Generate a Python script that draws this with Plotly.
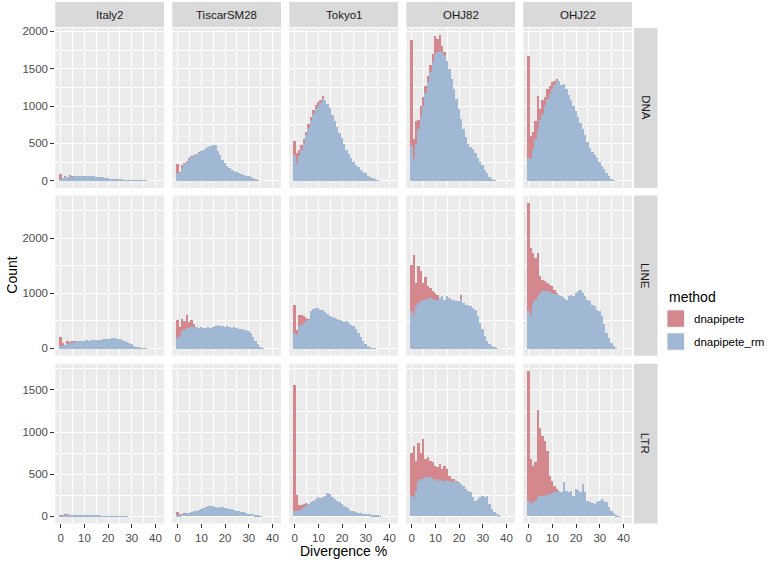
import plotly.graph_objects as go

# ---------------- data (counts per 1%-wide divergence bin, bins 0..38) ----------------
bins = list(range(39))
samples = ["Italy2", "TiscarSM28", "Tokyo1", "OHJ82", "OHJ22"]
families = ["DNA", "LINE", "LTR"]
methods = ["dnapipete", "dnapipete_rm"]
x_ticks = [0, 10, 20, 30, 40]

def pad(v):
    return v + [0] * (39 - len(v))

# DNA
dna_italy2_pipete = pad([90,40,70,50,75,60,65,65,65,65,65,65,65,62,60,58,55,50,45,40,35,30,25,20,18,15,12,10,8,6,5,5,5,4,3,2,1])
dna_italy2_rm     = pad([30,35,45,50,55,58,60,62,65,65,65,65,65,62,60,58,55,50,45,40,35,30,25,20,18,15,12,10,8,6,5,5,5,4,3,2,1])
dna_tiscar_pipete = pad([220,120,210,240,270,300,330,340,360,380,400,420,440,460,470,480,480,400,340,280,240,200,170,145,130,115,105,98,85,70,60,50,35,15,5])
dna_tiscar_rm     = pad([100,110,170,220,255,290,320,335,355,375,400,420,440,460,470,480,480,400,340,280,240,200,170,145,130,115,105,98,85,70,60,50,35,15,5])
dna_tokyo1_pipete = pad([530,370,420,480,560,660,760,860,950,1010,1050,1080,1130,1080,1030,970,880,800,720,640,570,490,420,360,300,250,210,180,150,120,100,70,50,32,18,6])
dna_tokyo1_rm     = pad([340,240,330,420,510,610,710,810,900,960,1000,1040,1100,1080,1030,970,880,800,720,640,570,490,420,360,300,250,210,180,150,120,100,70,50,32,18,6])
dna_ohj82_pipete  = pad([1890,560,800,820,1000,1120,1270,1400,1550,1700,1940,1900,1950,1800,1720,1600,1500,1360,1230,1100,960,830,700,590,500,460,430,370,300,250,210,150,100,55,30,10])
dna_ohj82_rm      = pad([470,290,500,700,860,1000,1180,1320,1460,1590,1700,1730,1740,1720,1690,1600,1500,1360,1230,1100,960,830,700,590,500,460,430,370,300,250,210,150,100,55,30,10])
dna_ohj22_pipete  = pad([1675,600,650,800,1130,960,1080,1120,1230,1270,1320,1340,1364,1340,1290,1300,1230,1150,1080,1000,930,860,780,700,610,520,440,390,340,300,250,200,160,110,60,25,8])
dna_ohj22_rm      = pad([300,290,420,560,700,820,900,1000,1100,1170,1230,1290,1340,1340,1290,1300,1230,1150,1080,1000,930,860,780,700,610,520,440,390,340,300,250,200,160,110,60,25,8])

# LINE
line_italy2_pipete = pad([217,108,78,138,120,145,140,150,145,150,150,155,150,155,160,160,165,165,170,175,180,185,190,190,185,175,160,140,120,100,80,60,40,25,12,5,2])
line_italy2_rm     = pad([50,60,75,90,100,115,130,150,145,150,150,155,150,155,160,160,165,165,170,175,180,185,190,190,185,175,160,140,120,100,80,60,40,25,12,5,2])
line_tiscar_pipete = pad([520,400,550,500,620,480,520,450,400,380,390,370,380,390,380,400,420,430,410,420,400,410,390,380,390,370,360,360,350,345,330,290,220,150,80,35,10])
line_tiscar_rm     = pad([200,240,330,350,370,380,390,400,400,380,390,370,380,390,380,400,420,430,410,420,400,410,390,380,390,370,360,360,350,345,330,290,220,150,80,35,10])
line_tokyo1_pipete = pad([804,350,620,620,600,560,540,683,725,743,743,713,701,665,635,605,581,563,545,533,515,491,503,461,437,413,352,292,214,141,87,51,27,15,9])
line_tokyo1_rm     = pad([290,260,410,440,470,500,530,683,725,743,743,713,701,665,635,605,581,563,545,533,515,491,503,461,437,413,352,292,214,141,87,51,27,15,9])
line_ohj82_pipete  = pad([1529,1710,1196,1498,1408,1196,1300,1136,1106,1045,1015,985,925,955,894,955,925,894,894,864,864,985,834,804,804,774,744,713,593,473,352,232,141,80,50,20,8])
line_ohj82_rm      = pad([683,623,774,834,864,894,894,925,925,910,894,894,925,955,894,955,925,894,894,864,864,900,834,804,804,774,744,713,593,473,352,232,141,80,50,20,8])
line_ohj22_pipete  = pad([2645,1832,1741,1650,1741,1317,1257,1227,1196,1166,1136,1076,1015,985,955,925,894,955,985,955,1015,1045,1076,1015,955,894,864,804,774,713,683,593,443,292,201,110,50,15])
line_ohj22_rm      = pad([683,623,834,894,955,1015,1045,1045,1045,1030,1015,1000,990,985,955,925,894,955,985,955,1015,1045,1076,1015,955,894,864,804,774,713,683,593,443,292,201,110,50,15])

# LTR
ltr_italy2_pipete = pad([15,20,25,25,22,20,15,12,10,10,10,8,8,8,8,6,6,5,5,4,4,3,3,2,2,2,1,1,1])
ltr_italy2_rm     = pad([5,8,10,10,10,10,10,10,8,8,8,8,8,8,8,6,6,5,5,4,4,3,3,2,2,2,1,1,1])
ltr_tiscar_pipete = pad([59,32,32,47,45,40,50,60,71,80,91,100,110,130,120,130,110,100,110,110,100,95,91,85,79,70,62,55,51,40,35,30,24,15,8,3])
ltr_tiscar_rm     = pad([20,15,25,35,40,40,50,60,71,80,91,100,110,130,120,130,110,100,110,110,100,95,91,85,79,70,62,55,51,40,35,30,24,15,8,3])
ltr_tokyo1_pipete = pad([1557,250,132,132,150,157,150,170,189,210,229,220,229,249,277,270,229,210,182,170,150,130,110,90,71,60,51,45,39,35,32,28,24,20,16,10,5])
ltr_tokyo1_rm     = pad([71,65,71,90,110,130,150,170,189,210,229,220,229,249,277,270,229,210,182,170,150,130,110,90,71,60,51,45,39,35,32,28,24,20,16,10,5])
ltr_ohj82_pipete  = pad([760,839,662,879,750,918,682,702,662,642,603,583,623,564,603,564,485,445,445,426,406,386,367,327,307,288,229,189,209,229,249,229,249,150,91,51,32,12])
ltr_ohj82_rm      = pad([249,229,307,426,445,445,465,455,465,445,445,426,445,426,426,430,426,406,426,406,406,386,367,327,307,288,229,189,209,229,249,229,249,150,91,51,32,12])
ltr_ohj22_pipete  = pad([1726,682,603,642,1261,1057,958,899,780,485,426,367,327,307,290,414,300,290,300,249,327,315,287,386,287,189,170,160,150,170,189,209,180,170,110,71,39,20,5])
ltr_ohj22_rm      = pad([189,150,170,189,229,249,240,249,268,260,275,288,288,300,290,414,300,290,300,249,327,315,287,386,287,189,170,160,150,170,189,209,180,170,110,71,39,20,5])

grid_data = [
    [(dna_italy2_pipete, dna_italy2_rm), (dna_tiscar_pipete, dna_tiscar_rm), (dna_tokyo1_pipete, dna_tokyo1_rm),
     (dna_ohj82_pipete, dna_ohj82_rm), (dna_ohj22_pipete, dna_ohj22_rm)],
    [(line_italy2_pipete, line_italy2_rm), (line_tiscar_pipete, line_tiscar_rm), (line_tokyo1_pipete, line_tokyo1_rm),
     (line_ohj82_pipete, line_ohj82_rm), (line_ohj22_pipete, line_ohj22_rm)],
    [(ltr_italy2_pipete, ltr_italy2_rm), (ltr_tiscar_pipete, ltr_tiscar_rm), (ltr_tokyo1_pipete, ltr_tokyo1_rm),
     (ltr_ohj82_pipete, ltr_ohj82_rm), (ltr_ohj22_pipete, ltr_ohj22_rm)],
]
row_dtick = [500, 1000, 500]

# ---------------- styling / geometry ----------------
W, H = 778, 563
RED = "#D4878C"
BLUE = "#A0B8D4"
colors = [RED, BLUE]
FONT = "Liberation Sans, Arial, Helvetica, sans-serif"

col_px = [(55.3, 164.0), (172.3, 281.0), (289.3, 398.0), (406.3, 515.0), (523.3, 632.0)]
row_px = [(26.0, 186.7), (194.3, 355.0), (363.0, 523.3)]
strip_top = (0.0, 25.0)
strip_right = (634.0, 657.5)
x_range = [-2.3, 43.6]

def fx(px):
    return px / W

def fy(py):
    return 1 - py / H

fig = go.Figure()
layout = dict(
    width=W, height=H, margin=dict(l=0, r=0, t=0, b=0),
    paper_bgcolor="white", plot_bgcolor="#EBEBEB",
    barmode="overlay", bargap=0, showlegend=False,
    font=dict(family=FONT, color="#4D4D4D", size=11),
)
shapes, annotations = [], []

for r in range(3):
    row_max = max(max(max(a), max(b)) for a, b in grid_data[r])
    yr = [-0.05 * row_max, 1.05 * row_max]
    for c in range(5):
        k = r * 5 + c + 1
        xa = "x" if k == 1 else f"x{k}"
        ya = "y" if k == 1 else f"y{k}"
        for m in range(2):
            fig.add_trace(go.Bar(
                x=bins, y=grid_data[r][c][m], width=1,
                marker=dict(color=colors[m], line=dict(width=0)),
                name=methods[m], xaxis=xa, yaxis=ya, hoverinfo="skip",
            ))
        bottom = (r == 2)
        left = (c == 0)
        layout["xaxis" if k == 1 else f"xaxis{k}"] = dict(
            domain=[fx(col_px[c][0]), fx(col_px[c][1])], anchor=ya,
            range=x_range, tickvals=x_ticks, showgrid=True, gridcolor="white", gridwidth=1.1,
            zeroline=False, showline=False, showticklabels=bottom,
            ticks="outside" if bottom else "", ticklen=4, tickwidth=1, tickcolor="#333333",
            tickfont=dict(size=11.5, color="#4D4D4D", family=FONT),
            minor=dict(tickvals=[5, 15, 25, 35], showgrid=True, gridcolor="white", gridwidth=0.55),
            fixedrange=True,
        )
        dt = row_dtick[r]
        layout["yaxis" if k == 1 else f"yaxis{k}"] = dict(
            domain=[fy(row_px[r][1]), fy(row_px[r][0])], anchor=xa,
            range=yr, dtick=dt, tick0=0, showgrid=True, gridcolor="white", gridwidth=1.1,
            zeroline=False, showline=False, showticklabels=left,
            ticks="outside" if left else "", ticklen=4, tickwidth=1, tickcolor="#333333",
            tickfont=dict(size=11.5, color="#4D4D4D", family=FONT),
            minor=dict(dtick=dt / 2, tick0=0, showgrid=True, gridcolor="white", gridwidth=0.55),
            fixedrange=True,
        )

# top strips
for c, name in enumerate(samples):
    x0, x1 = col_px[c]
    shapes.append(dict(type="rect", xref="paper", yref="paper", x0=fx(x0), x1=fx(x1),
                       y0=fy(strip_top[1]), y1=fy(strip_top[0]), fillcolor="#D9D9D9", line=dict(width=0), layer="below"))
    annotations.append(dict(xref="paper", yref="paper", x=fx((x0 + x1) / 2), y=fy(13), text=name, showarrow=False,
                            font=dict(size=11.5, color="#1A1A1A", family=FONT), xanchor="center", yanchor="middle"))
# right strips
for r, name in enumerate(families):
    y0, y1 = row_px[r]
    shapes.append(dict(type="rect", xref="paper", yref="paper", x0=fx(strip_right[0]), x1=fx(strip_right[1]),
                       y0=fy(y1), y1=fy(y0), fillcolor="#D9D9D9", line=dict(width=0), layer="below"))
    annotations.append(dict(xref="paper", yref="paper", x=fx((strip_right[0] + strip_right[1]) / 2), y=fy((y0 + y1) / 2),
                            text=name, showarrow=False, textangle=90,
                            font=dict(size=11.5, color="#1A1A1A", family=FONT), xanchor="center", yanchor="middle"))

# axis titles
annotations.append(dict(xref="paper", yref="paper", x=fx((col_px[0][0] + col_px[4][1]) / 2), y=fy(551),
                        text="Divergence %", showarrow=False, font=dict(size=14, color="#000000", family=FONT),
                        xanchor="center", yanchor="middle"))
annotations.append(dict(xref="paper", yref="paper", x=fx(12), y=fy((row_px[0][0] + row_px[2][1]) / 2),
                        text="Count", showarrow=False, textangle=-90, font=dict(size=14, color="#000000", family=FONT),
                        xanchor="center", yanchor="middle"))

# legend (drawn manually, ggplot style)
annotations.append(dict(xref="paper", yref="paper", x=fx(667), y=fy(296), text="method", showarrow=False,
                        font=dict(size=14, color="#000000", family=FONT), xanchor="left", yanchor="middle"))
key_y = [(309, 326.5), (332, 349.5)]
for m in range(2):
    ky0, ky1 = key_y[m]
    shapes.append(dict(type="rect", xref="paper", yref="paper", x0=fx(667), x1=fx(684.5), y0=fy(ky1), y1=fy(ky0),
                       fillcolor="#EBEBEB", line=dict(width=0)))
    shapes.append(dict(type="rect", xref="paper", yref="paper", x0=fx(667.5), x1=fx(684), y0=fy(ky1 - 0.5), y1=fy(ky0 + 0.5),
                       fillcolor=colors[m], line=dict(width=0)))
    annotations.append(dict(xref="paper", yref="paper", x=fx(692), y=fy((ky0 + ky1) / 2), text=methods[m], showarrow=False,
                            font=dict(size=11.5, color="#000000", family=FONT), xanchor="left", yanchor="middle"))

layout["shapes"] = shapes
layout["annotations"] = annotations
fig.update_layout(**layout)
fig.write_html("out.html", config={"displayModeBar": False},
               post_script="document.body.style.margin='0';document.body.style.overflow='hidden';")
